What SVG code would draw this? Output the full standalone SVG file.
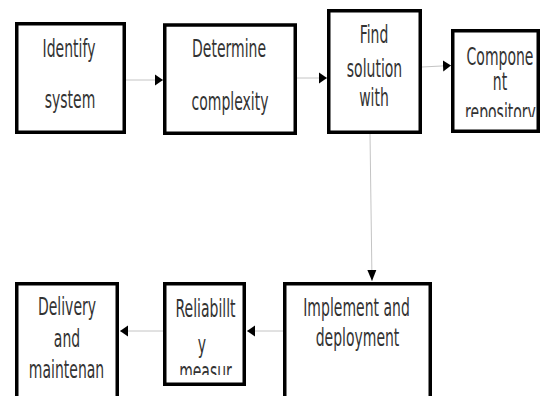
<svg xmlns="http://www.w3.org/2000/svg" width="542" height="396" viewBox="0 0 542 396">
<style>
.box{fill:#fff;stroke:#000;stroke-width:3.5}
.t{font-family:"DejaVu Sans",sans-serif;font-size:14px;fill:#333;text-anchor:middle}
.c{fill:none;stroke:#c4c4c4;stroke-width:1}
</style>
<defs>
<marker id="ah" markerUnits="userSpaceOnUse" markerWidth="8" markerHeight="12" refX="8" refY="6" orient="auto"><path d="M0,0.5 L8,6 L0,11.5 Z" fill="#000"/></marker>
<marker id="av" markerUnits="userSpaceOnUse" markerWidth="11" markerHeight="10" refX="11" refY="5" orient="auto"><path d="M0,0.5 L11,5 L0,9.5 Z" fill="#000"/></marker>
<clipPath id="clipRepo"><rect x="451" y="29" width="89" height="88"/></clipPath>
<clipPath id="clipMeas"><rect x="163" y="282" width="83" height="93"/></clipPath>
</defs>
<rect width="542" height="396" fill="#fff"/>
<g id="connectors">
<line class="c" x1="126" y1="80" x2="163" y2="80" marker-end="url(#ah)"/>
<line class="c" x1="297" y1="78" x2="327" y2="78" marker-end="url(#ah)"/>
<line class="c" x1="422" y1="67" x2="451" y2="65.5" marker-end="url(#ah)"/>
<line class="c" x1="370" y1="134" x2="372" y2="281" marker-end="url(#av)"/>
<line class="c" x1="283" y1="331" x2="247" y2="331" marker-end="url(#ah)"/>
<line class="c" x1="163" y1="331" x2="120" y2="331" marker-end="url(#ah)"/>
</g>
<g id="identify">
<rect class="box" x="16.75" y="23.75" width="107.5" height="108.5"/>
<text class="t" transform="translate(69,57) scale(1,1.72)">Identify</text>
<text class="t" transform="translate(70,108) scale(1,1.72)">system</text>
</g>
<g id="determine">
<rect class="box" x="164.75" y="25" width="130.5" height="108.25"/>
<text class="t" transform="translate(229,57) scale(1,1.72)">Determine</text>
<text class="t" transform="translate(230,110) scale(1,1.72)">complexity</text>
</g>
<g id="find">
<rect class="box" x="328.75" y="10.75" width="91.5" height="121.5"/>
<text class="t" transform="translate(374,43) scale(1,1.72)">Find</text>
<text class="t" transform="translate(374.5,77) scale(1,1.72)">solution</text>
<text class="t" transform="translate(374,106) scale(1,1.72)">with</text>
</g>
<g id="component">
<rect class="box" x="452.75" y="30.75" width="85.5" height="100.5"/>
<text class="t" transform="translate(500,65) scale(1,1.72)">Compone</text>
<text class="t" transform="translate(500,90) scale(1,1.72)">nt</text>
<g clip-path="url(#clipRepo)"><text class="t" transform="translate(500.5,121) scale(1,1.72)">repository</text></g>
</g>
<g id="implement">
<rect class="box" x="284.75" y="283.75" width="145.5" height="130"/>
<text class="t" transform="translate(356.5,316) scale(1,1.72)">Implement and</text>
<text class="t" transform="translate(357.5,346) scale(1,1.72)">deployment</text>
</g>
<g id="reliability">
<rect class="box" x="164.75" y="283.75" width="79.5" height="100.5"/>
<text class="t" transform="translate(205.5,317) scale(1,1.72)">Reliabillt</text>
<text class="t" transform="translate(202,353) scale(1,1.72)">y</text>
<g clip-path="url(#clipMeas)"><text class="t" transform="translate(205.5,380) scale(1,1.72)">measur</text></g>
</g>
<g id="delivery">
<rect class="box" x="16.75" y="283.75" width="100.5" height="130"/>
<text class="t" transform="translate(67,315) scale(1,1.72)">Delivery</text>
<text class="t" transform="translate(67,347) scale(1,1.72)">and</text>
<text class="t" transform="translate(66.5,378) scale(1,1.72)">maintenan</text>
</g>
</svg>
